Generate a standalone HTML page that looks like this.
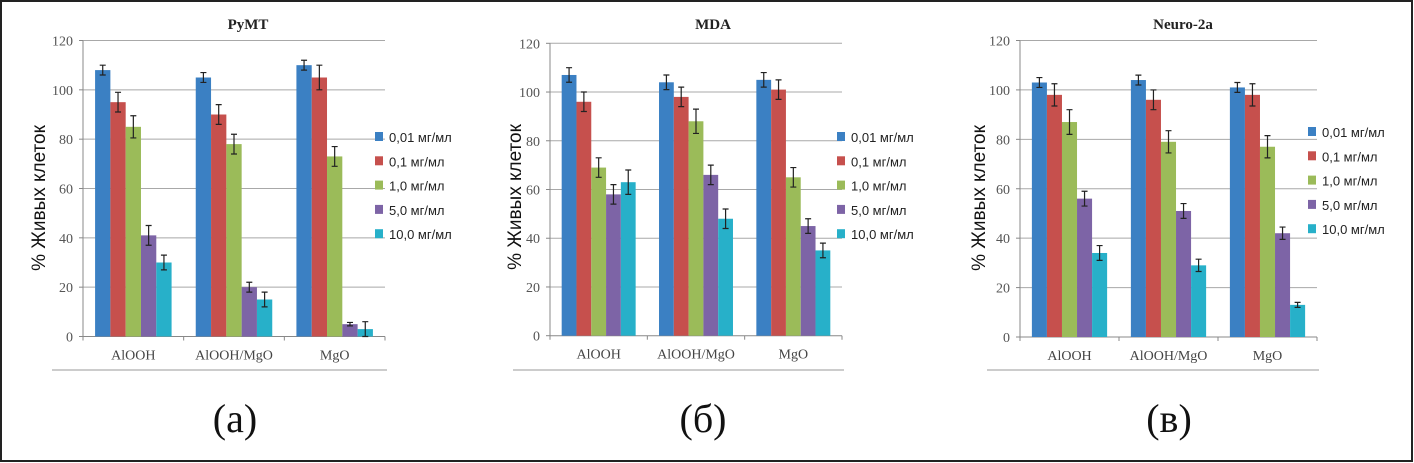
<!DOCTYPE html>
<html><head><meta charset="utf-8"><style>
body{margin:0;background:#fff}
svg{display:block}
</style></head><body>
<svg id="fig" width="1414" height="463" viewBox="0 0 1414 463" xmlns="http://www.w3.org/2000/svg">
<rect x="1" y="1" width="1411" height="460" fill="#fff" stroke="#222" stroke-width="2"/>
</svg>
<script>
const categories = ["AlOOH", "AlOOH/MgO", "MgO"];
const seriesNames = ["0,01 мг/мл", "0,1 мг/мл", "1,0 мг/мл", "5,0 мг/мл", "10,0 мг/мл"];
const yTicks = [0, 20, 40, 60, 80, 100, 120];
const panelTitles = ["PyMT", "MDA", "Neuro-2a"];
const panelLetters = ["(a)", "(б)", "(в)"];
// values[series][category]
const pymtValues = [[108,105,110],[95,90,105],[85,78,73],[41,20,5],[30,15,3]];
const pymtErrors = [[2,2,2],[4,4,5],[4.5,4,4],[4,2,0.7],[3,3,3]];
const mdaValues = [[107,104,105],[96,98,101],[69,88,65],[58,66,45],[63,48,35]];
const mdaErrors = [[3,3,3],[4,4,4],[4,5,4],[4,4,3],[5,4,3]];
const neuroValues = [[103,104,101],[98,96,98],[87,79,77],[56,51,42],[34,29,13]];
const neuroErrors = [[2,2,2],[4.5,4,4.5],[5,4.5,4.5],[3,3,2.5],[3,2.5,1]];

const colors = ["#3b80c3","#c6504d","#9bbb59","#7d64a6","#27b0c9"];
const panels = [
 {vals:pymtValues, errs:pymtErrors, x0:83, x1:385, yTop:40.5, yBot:336.5, legX:375, legY:137, titleX:248, letterX:235, yTitleX:38, lineL:52},
 {vals:mdaValues, errs:mdaErrors, x0:550, x1:842, yTop:43.3, yBot:335.7, legX:837, legY:137, titleX:713, letterX:703, yTitleX:514, lineL:513},
 {vals:neuroValues, errs:neuroErrors, x0:1020, x1:1317, yTop:40.5, yBot:337, legX:1308, legY:132, titleX:1183, letterX:1169, yTitleX:978, lineL:987}
];
const NS="http://www.w3.org/2000/svg";
const svg=document.getElementById('fig');
function mk(tag, attrs, parent, text){
  const e=document.createElementNS(NS,tag);
  for(const k in attrs) e.setAttribute(k, attrs[k]);
  if(text!==undefined) e.textContent=text;
  (parent||svg).appendChild(e); return e;
}
panels.forEach((p,pi)=>{
  const g=mk('g',{});
  
  
  const yScale=v=>p.yBot-(v/120)*(p.yBot-p.yTop);
  const cw=(p.x1-p.x0)/categories.length;
  const bw=cw*0.152, pad=(cw-5*bw)/2;
  const xScale=(ci,si)=>p.x0+ci*cw+pad+si*bw;
  yTicks.forEach(t=>{
    const y=yScale(t);
    if(t>0){const gl=mk('line',{x1:p.x0,x2:p.x1,y1:y,y2:y,stroke:'#a8a8a8','stroke-width':1},g);
      
      }
    mk('line',{x1:p.x0-4,x2:p.x0,y1:y,y2:y,stroke:'#888'},g);
    const tl=mk('text',{x:p.x0-10,y:y+5,'text-anchor':'end','font-family':'Liberation Serif, serif','font-size':14,fill:'#555'},g,String(t));
    
    
  });
  mk('line',{x1:p.x0,x2:p.x0,y1:p.yTop,y2:p.yBot,stroke:'#888'},g);
  mk('line',{x1:p.x0,x2:p.x1,y1:p.yBot,y2:p.yBot,stroke:'#888'},g);
  for(let i=0;i<=categories.length;i++){
    const x=p.x0+i*cw; mk('line',{x1:x,x2:x,y1:p.yBot,y2:p.yBot+4,stroke:'#888'},g);
  }
  categories.forEach((c,ci)=>{
    for(let si=0;si<5;si++){
      const v=p.vals[si][ci], e=p.errs[si][ci];
      const x=xScale(ci,si), y=yScale(v);
      const r=mk('rect',{x:x,y:y,width:bw,height:p.yBot-y,fill:colors[si]},g);
      
      
      const cx=x+bw/2, yh=yScale(v+e), yl=yScale(v-e);
      const eb=mk('path',{d:`M${cx},${yh}V${yl}M${cx-3},${yh}H${cx+3}M${cx-3},${yl}H${cx+3}`,stroke:'#222','stroke-width':1.2,fill:'none'},g);
      
      
    }
    const cl=mk('text',{x:p.x0+(ci+0.5)*cw,y:p.yBot+23,'text-anchor':'middle','font-family':'Liberation Serif, serif','font-size':14,fill:'#444'},g,c);
    
    
  });
  seriesNames.forEach((n,si)=>{
    const y=p.legY+si*24.3;
    const lg=mk('g',{},g);
    
    
    mk('rect',{x:p.legX,y:y-5,width:8,height:9,fill:colors[si]},lg);
    mk('text',{x:p.legX+14,y:y+5,'font-family':'Liberation Sans, sans-serif','font-size':13,fill:'#222'},lg,n);
  });
  const tt=mk('text',{x:p.titleX,y:29,'text-anchor':'middle','font-family':'Liberation Serif, serif','font-size':15,'font-weight':'bold',fill:'#222'},g,panelTitles[pi]);
  
  
  const yt=mk('text',{x:0,y:0,transform:`translate(${p.yTitleX+7},${pi==1?197:198}) rotate(-90)`,'text-anchor':'middle','font-family':'Liberation Sans, sans-serif','font-size':19,fill:'#111'},g,'% Живых клеток');
  
  
  mk('line',{x1:p.lineL,x2:p.x1+2,y1:370,y2:370,stroke:'#999'},g);
  const lt=mk('text',{x:p.letterX,y:432,'text-anchor':'middle','font-family':'Liberation Serif, serif','font-size':40,fill:'#111'},g,panelLetters[pi]);
  
  
});
</script>
</body></html>
